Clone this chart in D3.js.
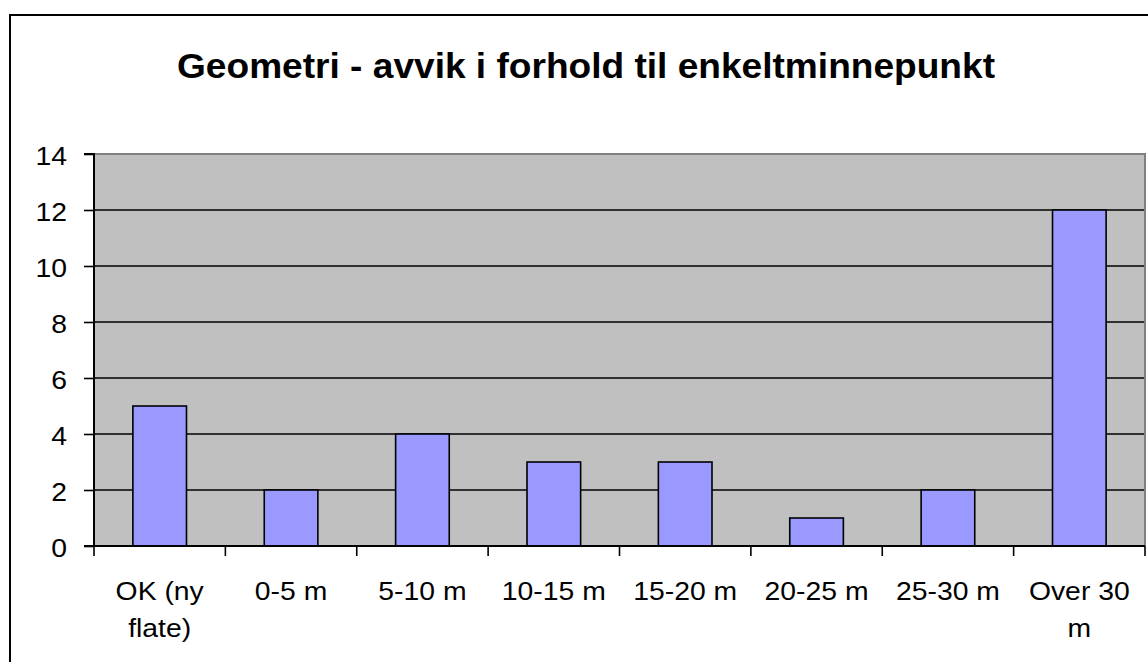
<!DOCTYPE html>
<html>
<head>
<meta charset="utf-8">
<script src="https://cdn.jsdelivr.net/npm/d3@7"></script>
<style>
html,body{margin:0;padding:0;background:#fff;}
svg{display:block;}
text{font-family:"Liberation Sans",Arial,sans-serif;fill:#000;}
</style>
</head>
<body>
<svg id="chart" width="1148" height="662"></svg>
<script>
const title = "Geometri - avvik i forhold til enkeltminnepunkt";
const categories = ["OK (ny flate)", "0-5 m", "5-10 m", "10-15 m", "15-20 m", "20-25 m", "25-30 m", "Over 30 m"];
const values = [5, 2, 4, 3, 3, 1, 2, 12];
const yTicks = [0, 2, 4, 6, 8, 10, 12, 14];

const svg = d3.select("#chart");
const FS = 26;
const SX = 1.09;
const plot = {left: 94, right: 1145, top: 154, bottom: 546};

// outer border
svg.append("rect").attr("x", 10).attr("y", 15).attr("width", 1148).attr("height", 700)
  .attr("fill", "#fff").attr("stroke", "#000").attr("stroke-width", 2);

const x = d3.scaleBand().domain(categories).range([plot.left, plot.right]).paddingInner(0).paddingOuter(0);
const y = d3.scaleLinear().domain([0, 14]).range([plot.bottom, plot.top]);

// plot background
svg.append("rect").attr("x", plot.left).attr("y", plot.top)
  .attr("width", plot.right - plot.left).attr("height", plot.bottom - plot.top)
  .attr("fill", "#C0C0C0");

// gridlines
svg.append("g").selectAll("line").data(yTicks.filter(d => d > 0 && d < 14)).join("line")
  .attr("x1", plot.left).attr("x2", plot.right)
  .attr("y1", d => y(d)).attr("y2", d => y(d))
  .attr("stroke", "#000").attr("stroke-width", 1.6);

// plot border top/right gray
svg.append("path")
  .attr("d", `M${plot.left},${plot.top}H${plot.right}V${plot.bottom}`)
  .attr("fill", "none").attr("stroke", "#808080").attr("stroke-width", 2);

// bars
const bw = x.bandwidth() / 2.45;
svg.append("g").selectAll("rect").data(values).join("rect")
  .attr("x", (d, i) => x(categories[i]) + x.bandwidth() / 2 - bw / 2)
  .attr("y", d => y(d))
  .attr("width", bw)
  .attr("height", d => y(0) - y(d))
  .attr("fill", "#9999FF").attr("stroke", "#000").attr("stroke-width", 1.6);

// y axis
const yAxis = d3.axisLeft(y).tickValues(yTicks).tickSize(10).tickPadding(0).tickFormat(d3.format("d"));
const gy = svg.append("g").attr("transform", `translate(${plot.left},0)`).call(yAxis);
gy.select(".domain").attr("stroke", "#000").attr("stroke-width", 2).attr("d", `M-10,${plot.top}H0V${plot.bottom}H-10`);
gy.selectAll(".tick line").attr("stroke", "#000").attr("stroke-width", 1.6);
gy.selectAll(".tick text").remove();
gy.selectAll(".tick").append("text")
  .attr("text-anchor", "end")
  .attr("transform", `translate(-27,10) scale(${SX},1)`)
  .style("font-size", FS + "px")
  .text(d => d);

// x axis
const gx = svg.append("g").attr("transform", `translate(0,${plot.bottom})`);
gx.append("line").attr("x1", plot.left).attr("x2", plot.right).attr("y1", 0).attr("y2", 0)
  .attr("stroke", "#000").attr("stroke-width", 2);
const bounds = categories.map(c => x(c)).concat([plot.right]);
gx.selectAll("line.tk").data(bounds).join("line").attr("class", "tk")
  .attr("x1", d => d).attr("x2", d => d).attr("y1", 0).attr("y2", 10)
  .attr("stroke", "#000").attr("stroke-width", 1.6);

// x labels with wrapping
const maxW = 122;
categories.forEach(c => {
  const cx = x(c) + x.bandwidth() / 2;
  const words = c.split(" ");
  const lines = [];
  let cur = "";
  const probe = svg.append("text").style("font-size", FS + "px");
  words.forEach(w => {
    const t = cur ? cur + " " + w : w;
    probe.text(t);
    if (probe.node().getComputedTextLength() * SX > maxW && cur) {
      lines.push(cur); cur = w;
    } else cur = t;
  });
  lines.push(cur);
  probe.remove();
  lines.forEach((ln, i) => {
    svg.append("text")
      .attr("text-anchor", "middle")
      .attr("transform", `translate(${cx},${600 + i * 37}) scale(${SX},1)`)
      .style("font-size", FS + "px")
      .text(ln);
  });
});

// title
svg.append("text")
  .attr("text-anchor", "middle")
  .attr("transform", `translate(586,78) scale(1.06,1)`)
  .style("font-size", "35px").style("font-weight", "bold")
  .text(title);
</script>
</body>
</html>
